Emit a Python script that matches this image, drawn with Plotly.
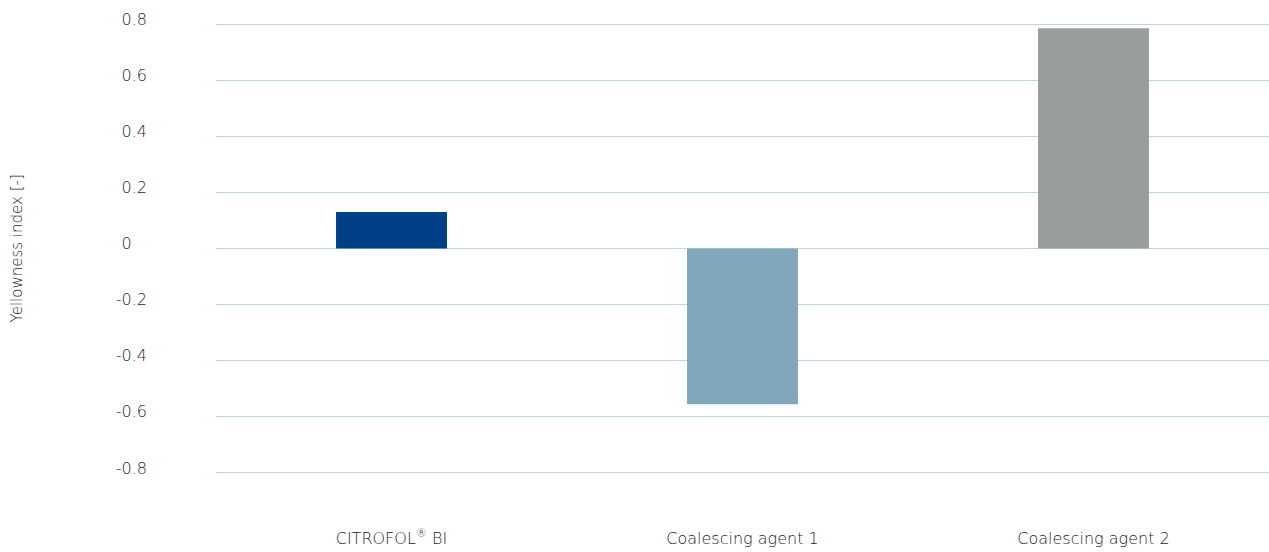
import plotly.graph_objects as go

categories = ["CITROFOL® BI", "Coalescing agent 1", "Coalescing agent 2"]
category_labels = ["CITROFOL<sup>®</sup> BI", "Coalescing agent 1", "Coalescing agent 2"]
values = [0.13, -0.555, 0.785]
bar_colors = ["#004087", "#80a7bc", "#9a9d9e"]
tick_vals = [0.8, 0.6, 0.4, 0.2, 0, -0.2, -0.4, -0.6, -0.8]
tick_text = ["0.8", "0.6", "0.4", "0.2", "0", "-0.2", "-0.4", "-0.6", "-0.8"]
y_title = "Yellowness index [-]"

FONT = "DejaVu Sans"
TXT = "#1e1e1e"
W = 300

# pad the lone "0" so it lines up at the left like the reference
ticktext_render = [t + "\u2008\u2007" if t == "0" else t for t in tick_text]

fig = go.Figure()
fig.add_trace(go.Bar(
    x=categories, y=values, marker=dict(color=bar_colors, line=dict(width=0)),
    width=0.316, showlegend=False, hoverinfo="x+y",
))

fig.update_layout(
    width=1269, height=552,
    margin=dict(l=216, r=0, t=10, b=51),
    paper_bgcolor="white", plot_bgcolor="white",
    font=dict(family=FONT, size=16, color=TXT, weight=W),
    xaxis=dict(
        tickvals=categories, ticktext=category_labels,
        showgrid=False, zeroline=False, showline=False,
        ticks="outside", ticklen=0, tickcolor="rgba(0,0,0,0)",
        ticklabelstandoff=23,
        tickfont=dict(family=FONT, size=16, color=TXT, weight=W),
    ),
    yaxis=dict(
        range=[-0.9, 0.85],
        tickvals=tick_vals, ticktext=ticktext_render,
        showgrid=True, gridcolor="#bdd5e2", gridwidth=1.3,
        zeroline=False, showline=False, ticks="",
        ticklabelstandoff=68, ticklabelshift=-5,
        tickfont=dict(family=FONT, size=16, color=TXT, weight=W),
    ),
    annotations=[dict(
        text=y_title, textangle=-90, showarrow=False,
        xref="paper", yref="y", x=(17 - 216) / 1053, y=0,
        xanchor="center", yanchor="middle",
        font=dict(family=FONT, size=15, color=TXT, weight=W),
    )],
)

fig.write_html("out.html", config={"displayModeBar": False},
               post_script="document.body.style.margin='0';")
